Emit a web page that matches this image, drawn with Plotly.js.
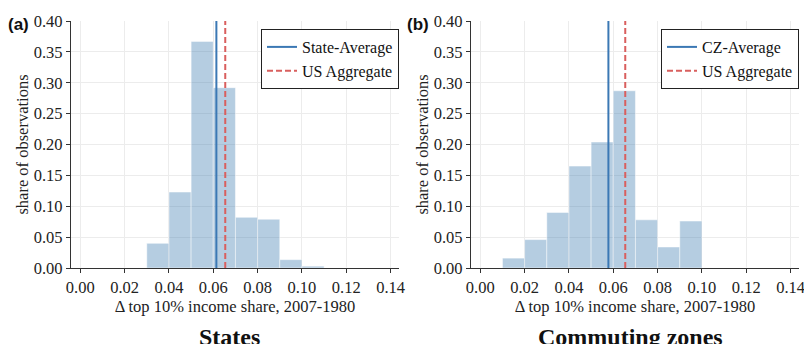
<!DOCTYPE html>
<html>
<head>
<meta charset="utf-8">
<script src="https://cdn.plot.ly/plotly-3.0.1.min.js"></script>
<style>html,body{margin:0;padding:0;background:#fff;}#chart{width:804px;height:344px;}</style>
</head>
<body>
<div id="chart"></div>
<script>
// Histogram bins (left edges), width 0.01
const binLeft = [0.00, 0.01, 0.02, 0.03, 0.04, 0.05, 0.06, 0.07, 0.08, 0.09, 0.10, 0.11, 0.12, 0.13];
const binWidth = 0.01;
// Panel (a) States: share of observations per bin
const statesShare = [0, 0, 0, 0.040, 0.123, 0.367, 0.292, 0.082, 0.079, 0.0135, 0.003, 0, 0, 0];
// Panel (b) Commuting zones: share of observations per bin
const czShare = [0, 0.016, 0.046, 0.090, 0.165, 0.204, 0.287, 0.078, 0.034, 0.076, 0, 0, 0, 0];
// Reference lines
const stateAverage = 0.0614;
const czAverage = 0.0578;
const usAggregate = 0.0654;
const xTicks = [0.00, 0.02, 0.04, 0.06, 0.08, 0.10, 0.12, 0.14];
const yTicks = [0.00, 0.05, 0.10, 0.15, 0.20, 0.25, 0.30, 0.35, 0.40];

const binCenters = binLeft.map(v => v + binWidth / 2);
const barColor = 'rgba(70,130,180,0.4)';
const blue = '#3b78b4';
const red = '#d95f5e';
const serif = 'Liberation Serif, Times New Roman, serif';

function barTrace(vals, xa, ya) {
  return {type: 'bar', x: binCenters, y: vals, width: binWidth, xaxis: xa, yaxis: ya,
    marker: {color: barColor, line: {color: 'rgba(255,255,255,0.8)', width: 0.6}},
    showlegend: false, hoverinfo: 'x+y'};
}
function vline(v, name, color, dash, xa, ya, lg) {
  return {type: 'scatter', mode: 'lines', x: [v, v], y: [0, 0.4], xaxis: xa, yaxis: ya,
    name: name, legend: lg, line: {color: color, width: 2, dash: dash}};
}

const data = [
  barTrace(statesShare, 'x', 'y'),
  vline(stateAverage, 'State-Average', blue, 'solid', 'x', 'y', 'legend'),
  vline(usAggregate, 'US Aggregate', red, '6px,3px', 'x', 'y', 'legend'),
  barTrace(czShare, 'x2', 'y2'),
  vline(czAverage, 'CZ-Average', blue, 'solid', 'x2', 'y2', 'legend2'),
  vline(usAggregate, 'US Aggregate', red, '6px,3px', 'x2', 'y2', 'legend2')
];

const W = 804, H = 344;
const yDom = [1 - 268 / H, 1 - 21 / H];
const fs = 16.5;
function xaxis(dom, anchor) {
  return {domain: dom, anchor: anchor, range: [-0.0042, 0.1438], tickvals: xTicks,
    ticktext: xTicks.map(v => v.toFixed(2)), ticks: 'outside', ticklen: 4, tickwidth: 1,
    tickcolor: '#333', showline: true, linecolor: '#333', linewidth: 1.2, mirror: false,
    showgrid: true, gridcolor: '#ececec', gridwidth: 1, zeroline: false,
    ticklabeloverflow: 'allow',
    tickfont: {family: serif, size: fs, color: '#222'},
    title: {text: 'Δ top 10% income share, 2007-1980', font: {family: serif, size: fs, color: '#222'}, standoff: 0},
    automargin: false, fixedrange: true};
}
function yaxis(anchor) {
  return {domain: yDom, anchor: anchor, range: [0, 0.4], tickvals: yTicks,
    ticktext: yTicks.map(v => v.toFixed(2)), ticks: 'outside', ticklen: 4, tickwidth: 1,
    tickcolor: '#333', showline: true, linecolor: '#333', linewidth: 1.2,
    showgrid: true, gridcolor: '#ececec', gridwidth: 1, zeroline: false,
    ticklabeloverflow: 'allow',
    tickfont: {family: serif, size: fs, color: '#222'},
    title: {text: 'share of observations', font: {family: serif, size: fs, color: '#222'}, standoff: 0},
    automargin: false, fixedrange: true};
}
const legendStyle = (x) => ({x: x, y: 1 - 29 / H, xanchor: 'left', yanchor: 'top',
  bgcolor: '#fff', bordercolor: '#222', borderwidth: 1,
  font: {family: serif, size: 16, color: '#111'}, tracegroupgap: 0, itemwidth: 30});

const lblFont = {family: 'Liberation Sans, Arial, sans-serif', size: 17, color: '#111'};
const subFont = {family: serif, size: 24, color: '#111'};
const layout = {
  width: W, height: H, margin: {l: 0, r: 0, t: 0, b: 0},
  paper_bgcolor: '#fff', plot_bgcolor: '#fff', bargap: 0,
  xaxis: xaxis([71 / W, 399 / W], 'y'),
  yaxis: yaxis('x'),
  xaxis2: xaxis([471 / W, 799 / W], 'y2'),
  yaxis2: yaxis('x2'),
  legend: legendStyle(261 / W),
  legend2: legendStyle(661 / W),
  annotations: [
    {text: '<b>(a)</b>', x: 18 / W, y: 1 - 24 / H, xanchor: 'center', yanchor: 'middle',
      xref: 'paper', yref: 'paper', showarrow: false, font: lblFont},
    {text: '<b>(b)</b>', x: 418 / W, y: 1 - 24 / H, xanchor: 'center', yanchor: 'middle',
      xref: 'paper', yref: 'paper', showarrow: false, font: lblFont},
    {text: '<b>States</b>', x: 229 / W, y: 1 - 337 / H, xanchor: 'center', yanchor: 'middle',
      xref: 'paper', yref: 'paper', showarrow: false, font: subFont},
    {text: '<b>Commuting zones</b>', x: 630 / W, y: 1 - 337 / H, xanchor: 'center', yanchor: 'middle',
      xref: 'paper', yref: 'paper', showarrow: false, font: subFont}
  ]
};

Plotly.newPlot('chart', data, layout, {displayModeBar: false, staticPlot: true});
</script>
</body>
</html>
